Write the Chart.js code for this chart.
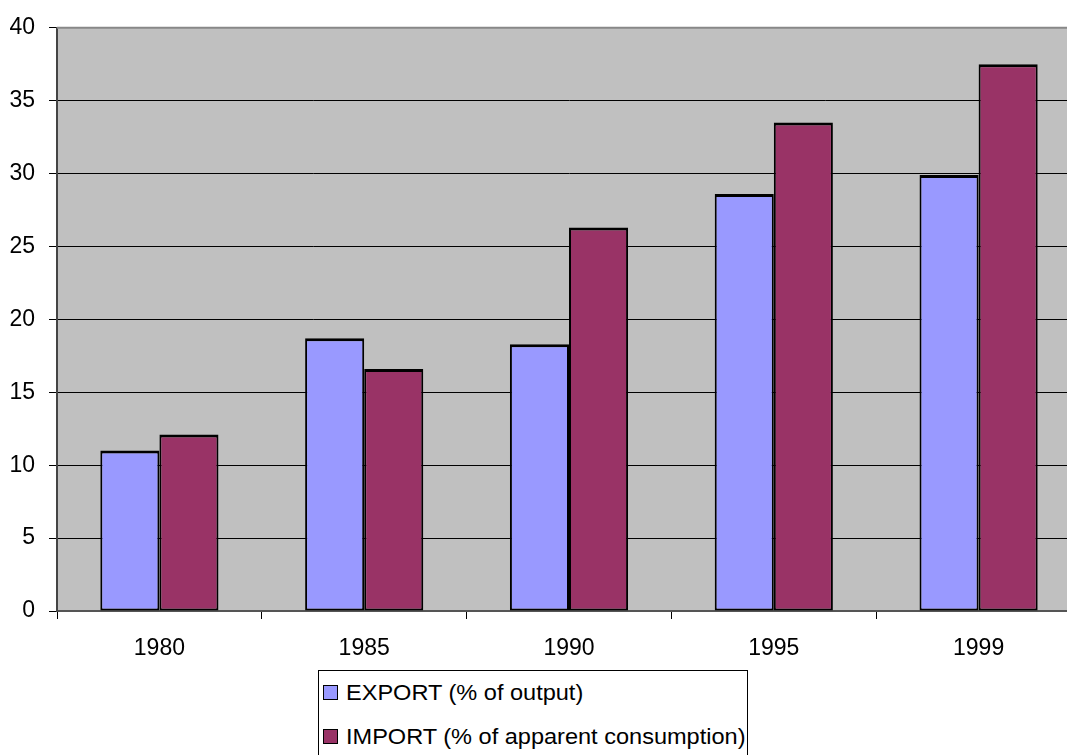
<!DOCTYPE html>
<html>
<head>
<meta charset="utf-8">
<script src="https://cdn.jsdelivr.net/npm/chart.js@4/dist/chart.umd.min.js"></script>
<style>
  html, body { margin: 0; padding: 0; overflow: hidden; background: #fff; width: 1067px; height: 755px; }
  #wrap { position: relative; width: 1090px; height: 755px; }
  #c { position: absolute; left: 0; top: 0; }
  #legend { position: absolute; left: 318px; top: 670px; width: 430px; height: 100px;
            border: 1px solid #000; box-sizing: border-box; background: #fff; }
  .item { position: absolute; left: 0; height: 22px; white-space: nowrap; }
  .sw { position: absolute; left: 4px; width: 13px; height: 13px; border: 1.5px solid #000; }
  .tx { position: absolute; left: 27px; top: 0; font-family: "Liberation Sans", Arial, sans-serif;
        font-size: 22px; line-height: 22px; color: #000; transform: scaleX(1.07); transform-origin: left center; }
</style>
</head>
<body>
<div id="wrap">
  <canvas id="c" width="1090" height="755"></canvas>
  <div id="legend"></div>
</div>
<script>
const categories = ["1980", "1985", "1990", "1995", "1999"];
const exportValues = [11.0, 18.7, 18.3, 28.6, 29.9];
const importValues = [12.1, 16.6, 26.3, 33.5, 37.5];
const seriesLabels = ["EXPORT (% of output)", "IMPORT (% of apparent consumption)"];
const seriesColors = ["#9999FF", "#993366"];
const yTicks = [0, 5, 10, 15, 20, 25, 30, 35, 40];

const plotBg = {
  id: 'plotBg',
  beforeDraw(chart) {
    const {ctx, chartArea: a} = chart;
    ctx.save();
    ctx.fillStyle = '#fff';
    ctx.fillRect(0, 0, chart.width, chart.height);
    ctx.fillStyle = '#C0C0C0';
    ctx.fillRect(a.left, a.top, a.right - a.left, a.bottom - a.top);
    ctx.restore();
  },
  afterDraw(chart) {
    const {ctx, chartArea: a} = chart;
    ctx.save();
    ctx.strokeStyle = '#888';
    ctx.lineWidth = 2;
    ctx.beginPath();
    ctx.moveTo(a.left, a.top);
    ctx.lineTo(a.right, a.top);
    ctx.stroke();
    ctx.restore();
  }
};

const font = { family: '"Liberation Sans", Arial, sans-serif', size: 23 };
const barBorder = { top: 3, left: 2, right: 2, bottom: 2 };

new Chart(document.getElementById('c'), {
  type: 'bar',
  data: {
    labels: categories,
    datasets: [
      { label: seriesLabels[0], data: exportValues, backgroundColor: seriesColors[0],
        borderColor: '#000', borderWidth: barBorder, borderSkipped: false },
      { label: seriesLabels[1], data: importValues, backgroundColor: seriesColors[1],
        borderColor: '#000', borderWidth: barBorder, borderSkipped: false }
    ]
  },
  options: {
    responsive: false,
    animation: false,
    devicePixelRatio: 1,
    layout: { padding: { top: 25, right: 9, left: 0, bottom: 0 } },
    plugins: { legend: { display: false }, tooltip: { enabled: false } },
    datasets: { bar: { categoryPercentage: 0.577, barPercentage: 1.0 } },
    scales: {
      x: {
        grid: { display: true, drawOnChartArea: false, offset: true, tickLength: 8, color: '#000', lineWidth: 1 },
        border: { display: true, color: '#555', width: 2 },
        ticks: { color: '#000', font: font, padding: 16, maxRotation: 0 },
        afterFit(scale) { scale.height = 144; }
      },
      y: {
        min: 0, max: 40,
        afterBuildTicks(scale) { scale.ticks = yTicks.map(v => ({ value: v })); },
        grid: { color: '#000', lineWidth: 1, tickLength: 8, drawTicks: true },
        border: { display: true, color: '#444', width: 2 },
        ticks: { color: '#000', font: font, padding: 14 },
        afterFit(scale) { scale.width = 57; }
      }
    }
  },
  plugins: [plotBg]
});

const legend = document.getElementById('legend');
const rowTops = [11, 55];
seriesLabels.forEach((lab, i) => {
  const it = document.createElement('div');
  it.className = 'item';
  it.style.top = rowTops[i] + 'px';
  const sw = document.createElement('div');
  sw.className = 'sw';
  sw.style.background = seriesColors[i];
  sw.style.top = '3px';
  const tx = document.createElement('div');
  tx.className = 'tx';
  tx.textContent = lab;
  it.appendChild(sw);
  it.appendChild(tx);
  legend.appendChild(it);
});
</script>
</body>
</html>
